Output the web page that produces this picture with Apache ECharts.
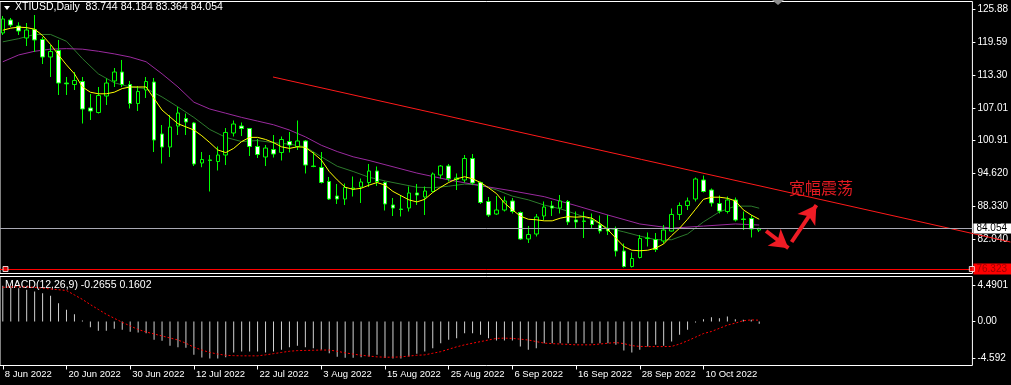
<!DOCTYPE html>
<html><head><meta charset="utf-8">
<script src="https://cdn.jsdelivr.net/npm/echarts@6/dist/echarts.min.js"></script>
<style>html,body{margin:0;padding:0;background:#000;overflow:hidden}#c{width:1011px;height:385px}</style>
</head><body><div id="c"></div>
<script>
// ---------- data ----------
const tickDates = ['8 Jun 2022','20 Jun 2022','30 Jun 2022','12 Jul 2022','22 Jul 2022','3 Aug 2022','15 Aug 2022','25 Aug 2022','6 Sep 2022','16 Sep 2022','28 Sep 2022','10 Oct 2022'];
const tickBars = [0,8,16,24,32,40,48,56,64,72,80,88];

const openP  = [121.28,123.75,122.61,120.33,121.95,120.04,116.71,117.95,111.75,111.47,112.04,106.99,106.13,109.28,112.14,113.85,111.47,107.85,110.42,111.94,102.04,99.56,103.56,104.99,104.14,96.52,97.10,96.80,98.04,102.23,103.56,103.09,99.66,97.66,99.09,98.52,100.61,99.66,100.71,95.94,95.66,92.99,90.23,89.66,91.56,91.94,92.80,94.99,92.80,88.52,87.75,87.94,90.80,90.04,91.09,94.23,95.94,93.37,93.28,97.37,92.80,89.18,86.80,87.56,89.28,87.09,82.04,82.99,86.42,88.33,87.94,89.18,85.66,85.47,85.66,84.71,84.04,84.04,79.75,76.80,78.52,82.13,81.94,81.66,83.56,86.71,88.42,89.66,93.28,91.37,88.80,87.28,89.47,85.85,85.94,83.744];
const closeP = [123.95,122.80,121.66,121.85,119.95,116.71,117.75,111.75,111.60,112.23,106.80,106.42,109.37,111.75,113.85,111.47,107.85,110.14,112.04,100.90,99.56,103.37,106.04,104.33,96.33,97.18,97.00,98.04,102.33,103.94,103.09,99.66,98.13,99.37,98.23,100.99,99.94,100.71,96.13,95.85,92.80,89.66,89.66,91.85,91.75,92.90,94.99,92.99,88.71,87.94,87.66,90.80,90.42,91.18,94.42,95.94,93.56,93.66,97.37,92.71,88.99,86.61,87.56,89.28,87.28,82.04,82.90,86.23,88.13,87.94,89.28,85.28,85.28,85.40,84.80,83.56,83.56,79.75,76.80,78.33,82.13,82.23,80.04,83.75,86.71,88.42,89.28,93.47,91.09,88.90,87.37,89.47,85.66,85.75,83.94,84.054];
const lowP   = [120.90,122.42,120.90,118.80,117.66,115.37,112.90,109.47,109.47,110.42,104.04,104.71,105.94,107.56,110.99,110.99,106.90,106.42,108.90,98.61,96.42,97.66,101.85,101.85,95.94,95.71,91.09,95.09,96.13,101.56,101.66,97.85,97.47,95.94,97.56,96.99,98.52,98.99,94.52,95.71,92.61,89.47,88.71,88.52,90.13,88.90,91.94,92.14,87.47,86.42,86.33,87.28,88.52,86.61,90.90,93.56,92.99,91.37,92.80,92.33,88.71,86.23,86.61,87.28,86.90,81.85,81.28,82.52,85.66,86.42,86.90,84.71,84.04,82.23,84.04,83.09,82.80,78.71,76.61,76.61,78.33,80.61,79.56,81.18,83.47,85.66,87.56,89.18,90.90,88.23,86.90,86.90,85.37,83.75,82.33,83.364];
const highP  = [124.52,124.14,123.32,123.18,124.71,120.52,118.99,119.95,112.90,113.85,112.90,109.66,110.99,112.61,114.61,116.14,112.14,111.18,112.90,112.71,103.75,105.66,107.18,105.94,104.33,98.61,98.04,99.66,103.18,104.61,104.23,103.18,101.09,99.94,101.85,101.56,102.42,104.61,100.90,98.61,98.61,93.85,92.52,92.61,93.94,93.56,96.33,95.85,92.99,89.85,90.42,92.04,92.52,92.04,94.71,96.13,96.33,94.52,98.04,98.23,92.99,90.04,90.23,90.13,89.85,87.28,84.52,86.80,89.18,89.28,90.42,89.47,87.28,87.28,86.90,86.52,86.61,84.42,81.18,79.47,82.80,83.28,83.18,84.71,87.85,89.00,89.94,93.75,94.13,91.66,90.33,90.13,89.94,87.28,86.61,84.184];

const maFast = [121.8,122.2,122.4,122.3,122.0,120.8,119.1,117.1,115.2,113.5,111.0,110.0,109.7,109.7,110.0,110.7,111.0,111.0,111.0,108.8,106.6,105.3,104.0,103.4,102.8,101.7,100.4,99.0,98.5,99.3,100.6,101.4,101.4,101.0,100.4,99.6,99.3,99.6,99.5,98.4,97.1,94.9,93.3,91.9,91.5,91.7,92.3,92.8,92.3,91.1,90.3,89.5,89.1,89.6,90.9,91.9,92.8,93.5,93.9,93.5,92.8,91.8,90.7,88.9,87.6,86.4,85.8,85.7,85.5,85.5,86.0,86.3,86.2,86.3,86.0,85.0,83.8,82.2,80.6,79.9,79.8,79.9,80.3,81.1,82.7,84.1,85.8,87.7,89.6,90.0,90.0,89.8,89.3,87.6,86.6,85.8];
const maMidBars = [0,2,4,6,8,10,12,14,16,18,20,22,24,26,28,30,32,34,36,38,40,42,44,46,48,50,52,54,56,58,60,62,64,66,68,70,72,74,76,78,80,82,84,86,88,90,92,94,95];
const maMidVals = [119.6,120.2,121.0,121.0,119.7,116.4,113.5,111.8,111.0,110.7,109.1,107.2,105.2,102.9,101.4,100.6,100.8,100.4,100.1,99.6,97.7,95.9,94.9,93.8,93.1,92.5,91.9,91.8,92.1,92.5,92.3,91.4,90.2,89.5,88.5,87.8,86.8,85.7,84.1,83.4,82.6,81.9,81.9,83.0,85.3,87.2,88.3,88.3,87.9];
const maSlowBars = [0,2,4,6,8,10,12,14,16,18,20,22,24,26,28,30,32,34,36,38,40,42,44,46,48,52,56,60,64,68,72,76,80,84,88,92,95];
const maSlowVals = [115.8,117.1,117.8,118.2,118.3,118.2,117.8,117.3,116.7,115.8,113.5,111.0,108.1,106.8,106.0,105.2,104.5,103.8,102.8,101.5,99.9,98.7,97.7,97.0,96.2,94.6,93.3,92.2,91.2,90.1,88.4,86.6,84.9,84.1,84.5,84.9,84.7];

const macdMain = [4.45,4.35,4.15,3.94,3.73,3.52,3.19,2.28,1.45,0.91,0.12,-0.70,-1.16,-1.16,-0.91,-1.04,-1.29,-1.37,-1.45,-2.28,-2.40,-3.03,-3.19,-3.28,-4.15,-4.48,-4.59,-4.59,-4.44,-3.86,-3.73,-3.73,-3.73,-3.86,-3.73,-3.52,-3.19,-3.03,-3.19,-3.32,-3.52,-3.94,-4.40,-4.50,-4.50,-4.44,-4.35,-4.15,-4.55,-4.59,-4.59,-4.35,-4.02,-3.73,-3.32,-2.69,-2.28,-2.07,-1.45,-1.45,-1.66,-2.07,-2.36,-2.36,-2.36,-3.11,-3.52,-3.32,-2.69,-2.69,-2.69,-2.69,-2.69,-2.69,-2.69,-2.69,-2.69,-2.90,-3.61,-3.86,-3.52,-3.11,-2.90,-3.03,-2.49,-1.66,-1.04,-0.12,0.29,0.54,0.41,0.62,0.29,0.21,0.21,-0.2655];
const macdSignal = [4.25,4.3,4.32,4.3,4.25,4.15,4.05,3.95,3.85,3.3,2.75,2.1,1.5,0.9,0.4,-0.1,-0.55,-1.0,-1.3,-1.55,-1.8,-2.05,-2.3,-2.7,-3.2,-3.55,-3.85,-4.05,-4.2,-4.25,-4.27,-4.27,-4.27,-4.15,-4.0,-3.85,-3.7,-3.62,-3.6,-3.58,-3.55,-3.55,-3.7,-3.9,-4.05,-4.2,-4.3,-4.4,-4.44,-4.44,-4.4,-4.3,-4.2,-4.15,-3.95,-3.75,-3.45,-3.15,-2.9,-2.7,-2.5,-2.3,-2.1,-2.07,-2.1,-2.2,-2.3,-2.5,-2.69,-2.75,-2.8,-2.85,-2.9,-2.9,-2.9,-2.8,-2.7,-2.62,-2.75,-3.0,-3.1,-3.12,-3.12,-3.12,-3.1,-2.8,-2.4,-1.95,-1.5,-1.24,-0.85,-0.45,-0.2,0.1,0.2,0.1602];

const priceTicks = [125.88,119.59,113.30,107.01,100.91,94.62,88.33,82.04];
const macdTicks = [4.4901,0,-4.592];
const macdTickLabels = ['4.4901','0.00','-4.592'];
const bidPrice = 84.054;
const levelPrice = 76.323;
const trendLine = [[33.84,112.90],[126.21,81.47]];
const arrowDown = [[95.6,83.56],[98.4,80.3]];
const arrowUp = [[98.8,81.47],[101.9,88.5]];
const levelMarks = [[0.34,76.323],[121.7,76.323]];
const headerText = 'XTIUSD,Daily  83.744 84.184 83.364 84.054';
const macdText = 'MACD(12,26,9) -0.2655 0.1602';
const noteText = '宽幅震荡';

// ---------- chart ----------
const FONT = 'Liberation Sans';
const P_MIN = 75.468, P_MAX = 127.279;
const X_MIN = -0.35, X_MAX = 121.775, X_MAX_OV = 126.275;
const M_MIN = -5.473, M_MAX = 5.597;

const candles = openP.map((o,i)=>[i,o,closeP[i],lowP[i],highP[i]]);
const fmtPrice = v => (v >= 100 ? v.toFixed(2) : v.toFixed(3));

const chart = echarts.init(document.getElementById('c'), null, {renderer:'canvas'});
chart.setOption({
  backgroundColor:'#000',
  animation:false,
  grid:[
    {left:-1.5, top:1.5, width:977, height:272, show:true, borderColor:'#fff', borderWidth:1, backgroundColor:'transparent'},
    {left:-1.5, top:276.5, width:977, height:89, show:true, borderColor:'#fff', borderWidth:1, backgroundColor:'transparent'},
    {left:-1.5, top:1.5, width:1013, height:272, show:false}
  ],
  xAxis:[
    {gridIndex:0, type:'value', min:X_MIN, max:X_MAX, show:false, axisLine:{onZero:false}},
    {gridIndex:1, type:'value', min:X_MIN, max:X_MAX, position:'bottom', axisLine:{show:false, onZero:false}, splitLine:{show:false},
     axisTick:{show:true, customValues:tickBars, length:4, lineStyle:{color:'#fff', width:1}},
     axisLabel:{show:true, customValues:tickBars, color:'#fff', fontFamily:FONT, fontSize:9.5, align:'left', margin:4, padding:[0,0,0,2],
       formatter:v=>tickDates[tickBars.indexOf(Math.round(v))] || ''}},
    {gridIndex:2, type:'value', min:X_MIN, max:X_MAX_OV, show:false, axisLine:{onZero:false}}
  ],
  yAxis:[
    {gridIndex:0, type:'value', position:'right', min:P_MIN, max:P_MAX, splitLine:{show:false}, axisLine:{show:false, onZero:false},
     axisTick:{show:true, inside:false, customValues:priceTicks, length:3, lineStyle:{color:'#fff'}},
     axisLabel:{show:true, customValues:priceTicks, color:'#fff', fontFamily:FONT, fontSize:10, margin:5, formatter:fmtPrice}},
    {gridIndex:1, type:'value', position:'right', min:M_MIN, max:M_MAX, splitLine:{show:false}, axisLine:{show:false, onZero:false},
     axisTick:{show:true, inside:false, customValues:macdTicks, length:3, lineStyle:{color:'#fff'}},
     axisLabel:{show:true, customValues:macdTicks, color:'#fff', fontFamily:FONT, fontSize:10, margin:5,
       formatter:v=>{let k=0,b=1e9;macdTicks.forEach((t,j)=>{if(Math.abs(t-v)<b){b=Math.abs(t-v);k=j;}});return macdTickLabels[k];}}},
    {gridIndex:2, type:'value', min:P_MIN, max:P_MAX, show:false, axisLine:{onZero:false}}
  ],
  series:[
    {type:'candlestick', xAxisIndex:0, yAxisIndex:0, data:candles, barWidth:4,
     encode:{x:0, y:[1,2,3,4]},
     itemStyle:{color:'#000', color0:'#fff', borderColor:'#00ff00', borderColor0:'#00ff00', borderWidth:1},
     markLine:{silent:true, symbol:['none','none'], animation:false,
       data:[
         {yAxis:bidPrice, lineStyle:{color:'#a9a9b4', width:1, type:'solid'},
          label:{show:true, position:'end', distance:1, formatter:fmtPrice(bidPrice), backgroundColor:'#fff', color:'#000', fontFamily:FONT, fontSize:10, lineHeight:10, padding:[0,4,0,3]}},
         {yAxis:levelPrice, lineStyle:{color:'#ff0000', width:1, type:'solid'},
          label:{show:true, position:'end', distance:1, formatter:fmtPrice(levelPrice), backgroundColor:'#ff0000', color:'#a00000', fontFamily:FONT, fontSize:10, lineHeight:10, padding:[1,4,0,3]}}
       ]}},
    {type:'line', xAxisIndex:0, yAxisIndex:0, data:maFast.map((v,i)=>[i,v]), showSymbol:false, lineStyle:{color:'#ffff00', width:1}, z:3},
    {type:'line', xAxisIndex:0, yAxisIndex:0, data:maMidBars.map((b,i)=>[b,maMidVals[i]]), showSymbol:false, lineStyle:{color:'#2c7a2c', width:1}, z:1},
    {type:'line', xAxisIndex:0, yAxisIndex:0, data:maSlowBars.map((b,i)=>[b,maSlowVals[i]]), showSymbol:false, lineStyle:{color:'#9a2a9e', width:1}, z:1},
    {type:'scatter', xAxisIndex:0, yAxisIndex:0, data:levelMarks, symbol:'rect', symbolSize:5, clip:false,
     itemStyle:{color:'#ff0000', borderColor:'#fff', borderWidth:1}, z:5},
    {type:'bar', xAxisIndex:1, yAxisIndex:1, data:macdMain.map((v,i)=>[i,v]), barWidth:1, itemStyle:{color:'#d0d0d0'}},
    {type:'line', xAxisIndex:1, yAxisIndex:1, data:macdSignal.map((v,i)=>[i,v]), showSymbol:false, lineStyle:{color:'#ff0000', width:1, type:[2,2]}},
    {type:'line', xAxisIndex:2, yAxisIndex:2, data:trendLine, showSymbol:false, lineStyle:{color:'#ff1a1a', width:1}, z:4,
     markLine:{silent:true, symbol:['none','arrow'], symbolSize:[16,18], label:{show:false},
       lineStyle:{color:'#ee1c25', width:4, type:'solid'},
       data:[[{coord:arrowDown[0]},{coord:arrowDown[1]}],[{coord:arrowUp[0]},{coord:arrowUp[1]}]]}}
  ],
  graphic:[
    {type:'polygon', shape:{points:[[4,6],[10,6],[7,10]]}, style:{fill:'#fff'}},
    {type:'text', left:15, top:2, style:{text:headerText, fill:'#fff', font:'10.5px "Liberation Sans"'}},
    {type:'text', left:5, top:280, style:{text:macdText, fill:'#fff', font:'10.5px "Liberation Sans"'}},
    {type:'text', left:789, top:180, style:{text:noteText, fill:'#e21b22', font:'16px "Noto Sans CJK SC"'}},
    {type:'polygon', shape:{points:[[772,0],[784,0],[778,5]]}, style:{fill:'#8c8c8c'}}
  ]
});
</script></body></html>
